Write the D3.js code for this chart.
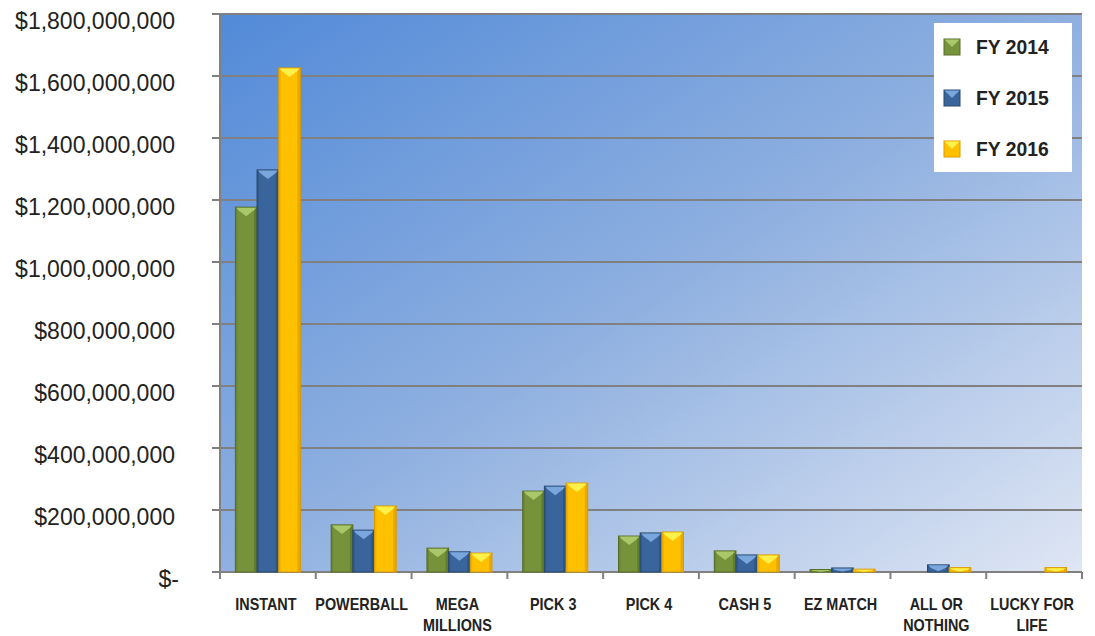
<!DOCTYPE html>
<html><head><meta charset="utf-8">
<script src="https://cdn.jsdelivr.net/npm/d3@7"></script>
<style>body{margin:0;background:#fff}svg{display:block;font-family:"Liberation Sans",Arial,sans-serif}</style>
</head><body><svg id="c" width="1095" height="636"></svg>
<script>
const categories = ["INSTANT","POWERBALL","MEGA|MILLIONS","PICK 3","PICK 4","CASH 5","EZ MATCH","ALL OR|NOTHING","LUCKY FOR|LIFE"];
const seriesNames = ["FY 2014","FY 2015","FY 2016"];
const fy2014 = [1177e6,152e6,77e6,261e6,116e6,68e6,8e6,0,0];
const fy2015 = [1297e6,135e6,65e6,277e6,126e6,55e6,13e6,23e6,0];
const fy2016 = [1626e6,213e6,61e6,287e6,129e6,55e6,9e6,14e6,14e6];
const yTicks = [0,200e6,400e6,600e6,800e6,1000e6,1200e6,1400e6,1600e6,1800e6];
const yTickLabels = ["$-","$200,000,000","$400,000,000","$600,000,000","$800,000,000","$1,000,000,000","$1,200,000,000","$1,400,000,000","$1,600,000,000","$1,800,000,000"];

const colors = [
  {base:"#76923b", light:"#a9c86a", dark:"#566d27"},
  {base:"#3a659c", light:"#79a6dc", dark:"#27496f"},
  {base:"#ffc000", light:"#fff04a", dark:"#d99a00"}
];
const series = [fy2014, fy2015, fy2016];

const svg = d3.select("#c");
const L = 220, R = 1082, T = 14, B = 572;
const x = d3.scaleBand().domain(categories).range([L, R]).paddingInner(0).paddingOuter(0);
const x1 = d3.scaleBand().domain(seriesNames).range([0, x.bandwidth()]).paddingInner(0).paddingOuter(0.71);
const y = d3.scaleLinear().domain([0, 1800e6]).range([B, T]);

const defs = svg.append("defs");
const bg = defs.append("linearGradient").attr("id","bg").attr("x1","0").attr("y1","0").attr("x2","1").attr("y2","1");
bg.append("stop").attr("offset","0").attr("stop-color","#528ad8");
bg.append("stop").attr("offset","0.5").attr("stop-color","#8fb0e0");
bg.append("stop").attr("offset","1").attr("stop-color","#dfe6f4");

svg.append("rect").attr("x",L).attr("y",T).attr("width",R-L).attr("height",B-T).attr("fill","url(#bg)");

// gridlines
svg.append("g").selectAll("line").data(yTicks).join("line")
  .attr("x1",L-8).attr("x2",R).attr("y1",d=>y(d)).attr("y2",d=>y(d))
  .attr("stroke","#808080").attr("stroke-width",2);
// y axis line
svg.append("line").attr("x1",L).attr("x2",L).attr("y1",T-1).attr("y2",B+1).attr("stroke","#808080").attr("stroke-width",2);

// y labels
svg.append("g").selectAll("text").data(yTicks).join("text")
  .attr("x",(d,i)=> i===0 ? 179 : 175).attr("y",d=>y(d)+9)
  .attr("text-anchor","end").attr("dominant-baseline","middle")
  .attr("font-size",23).attr("fill","#222")
  .text((d,i)=>yTickLabels[i]);

// bottom ticks
const bounds = categories.map(c=>x(c)).concat([R]);
svg.append("g").selectAll("line").data(bounds).join("line")
  .attr("x1",d=>d).attr("x2",d=>d).attr("y1",B).attr("y2",B+7)
  .attr("stroke","#808080").attr("stroke-width",2);

// bars
const bars = svg.append("g");
categories.forEach((c,ci)=>{
  seriesNames.forEach((s,si)=>{
    const v = series[si][ci];
    if (!v) return;
    const bx = x(c) + x1(s), bw = x1.bandwidth();
    const by = y(v), bh = B - by;
    const col = colors[si];
    const g = bars.append("g");
    g.append("rect").attr("x",bx).attr("y",by).attr("width",bw).attr("height",bh).attr("fill",col.base)
      .attr("stroke",col.dark).attr("stroke-width",1);
    g.append("rect").attr("x",bx+bw-3).attr("y",by).attr("width",3).attr("height",bh).attr("fill",col.dark).attr("opacity",0.6);
    g.append("rect").attr("x",bx).attr("y",by).attr("width",2).attr("height",bh).attr("fill",col.dark).attr("opacity",0.35);
    const d = Math.min(9, bh*0.9);
    const e = Math.min(3, bh*0.5);
    g.append("polygon").attr("points",[[bx+1,by+0.5],[bx+bw-1,by+0.5],[bx+bw-3,by+e],[bx+bw/2,by+d],[bx+3,by+e]].map(p=>p.join(",")).join(" "))
      .attr("fill",col.light);
  });
});

// x labels
const xl = svg.append("g");
categories.forEach(c=>{
  const cx = x(c) + x.bandwidth()/2 - 2;
  const lines = c.split("|");
  lines.forEach((ln,li)=>{
    xl.append("text").attr("transform",`translate(${cx},${606+li*21}) scale(0.9,1)`)
      .attr("text-anchor","middle").attr("dominant-baseline","middle")
      .attr("font-size",16).attr("font-weight","bold").attr("fill","#222").text(ln);
  });
});

// legend
const lg = svg.append("g");
lg.append("rect").attr("x",934).attr("y",23).attr("width",138).attr("height",149).attr("fill","#fff");
seriesNames.forEach((s,i)=>{
  const cy = 47 + i*51;
  const col = colors[i];
  lg.append("rect").attr("x",944).attr("y",cy-8).attr("width",16).attr("height",16).attr("fill",col.base).attr("stroke",col.dark).attr("stroke-width",1);
  lg.append("polygon").attr("points",[[944.5,cy-7.5],[959.5,cy-7.5],[952,cy]].map(p=>p.join(",")).join(" ")).attr("fill",col.light);
  lg.append("text").attr("transform",`translate(976,${cy+1}) scale(0.92,1)`)
    .attr("dominant-baseline","middle").attr("font-size",21).attr("font-weight","bold").attr("fill","#222").text(s);
});
</script></body></html>
